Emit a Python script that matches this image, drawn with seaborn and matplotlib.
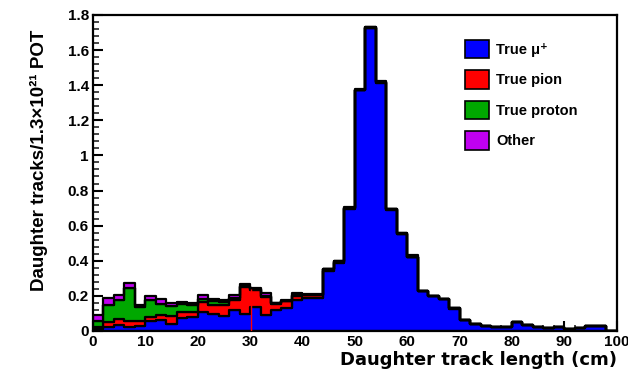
import numpy as np
import pandas as pd
import matplotlib
matplotlib.use("Agg")
import matplotlib.pyplot as plt
import seaborn as sns
from matplotlib.patches import Patch
from matplotlib.ticker import MultipleLocator

# ---- data (2 cm bins, 0..100 cm) ----
bin_edges = list(range(0, 102, 2))
categories = ["True \u03bc\u207a", "True pion", "True proton", "Other"]
colors = ["#0000ff", "#ff0000", "#00a800", "#c000f0"]

true_mu = [0.010, 0.023, 0.033, 0.023, 0.030, 0.057, 0.061, 0.038, 0.076, 0.080,
           0.110, 0.099, 0.086, 0.118, 0.099, 0.135, 0.090, 0.118, 0.133, 0.175,
           0.190, 0.190, 0.343, 0.385, 0.695, 1.370, 1.725, 1.415, 0.690, 0.553,
           0.420, 0.226, 0.197, 0.181, 0.128, 0.062, 0.039, 0.028, 0.025, 0.025,
           0.049, 0.034, 0.025, 0.015, 0.020, 0.010, 0.015, 0.030, 0.030, 0.000]
true_pion = [0.010, 0.030, 0.034, 0.034, 0.027, 0.025, 0.032, 0.050, 0.034, 0.030,
             0.055, 0.048, 0.061, 0.057, 0.149, 0.100, 0.105, 0.037, 0.039, 0.025,
             0.015, 0.015, 0.009, 0.010, 0.005, 0.002, 0.002, 0.002, 0.002, 0.002,
             0.002, 0.001, 0.001, 0.001, 0.001, 0.000, 0.000, 0.000, 0.000, 0.000,
             0.000, 0.000, 0.000, 0.000, 0.000, 0.000, 0.000, 0.000, 0.000, 0.000]
true_proton = [0.037, 0.094, 0.108, 0.187, 0.078, 0.093, 0.063, 0.055, 0.042, 0.040,
               0.015, 0.023, 0.018, 0.012, 0.007, 0.003, 0.005, 0.003, 0.001, 0.005,
               0.002, 0.002, 0.001, 0.002, 0.002, 0.002, 0.002, 0.002, 0.001, 0.001,
               0.001, 0.001, 0.001, 0.000, 0.000, 0.000, 0.000, 0.000, 0.000, 0.000,
               0.000, 0.000, 0.000, 0.000, 0.000, 0.000, 0.000, 0.000, 0.000, 0.000]
other = [0.033, 0.043, 0.029, 0.032, 0.012, 0.025, 0.025, 0.015, 0.014, 0.008,
         0.024, 0.015, 0.010, 0.019, 0.015, 0.007, 0.015, 0.004, 0.005, 0.010,
         0.003, 0.003, 0.002, 0.003, 0.003, 0.003, 0.004, 0.004, 0.002, 0.004,
         0.007, 0.002, 0.001, 0.001, 0.001, 0.001, 0.001, 0.000, 0.000, 0.000,
         0.001, 0.000, 0.000, 0.000, 0.000, 0.000, 0.000, 0.000, 0.000, 0.000]

x_ticks = [0, 10, 20, 30, 40, 50, 60, 70, 80, 90, 100]
y_ticks = [0, 0.2, 0.4, 0.6, 0.8, 1, 1.2, 1.4, 1.6, 1.8]
y_tick_labels = ["0", "0.2", "0.4", "0.6", "0.8", "1", "1.2", "1.4", "1.6", "1.8"]

# ---- build table ----
centers = [(a + b) / 2 for a, b in zip(bin_edges[:-1], bin_edges[1:])]
series = [true_mu, true_pion, true_proton, other]
df = pd.DataFrame({
    "length": np.tile(centers, len(categories)),
    "tracks": np.concatenate([np.array(s, dtype=float) for s in series]),
    "type": np.repeat(categories, len(centers)),
})

sns.set_theme(style="white")
plt.rcParams["font.family"] = ["Liberation Sans", "DejaVu Sans"]
plt.rcParams["text.color"] = "black"

fig = plt.figure(figsize=(6.28, 3.74), dpi=100)
ax = fig.add_axes([0.148, 0.115, 0.834, 0.845])

# seaborn stacks the first hue level on top -> reverse so muons are at bottom
sns.histplot(data=df, x="length", weights="tracks", hue="type",
             hue_order=categories[::-1], palette=dict(zip(categories, colors)),
             bins=bin_edges, multiple="stack", element="step", fill=True,
             alpha=1.0, edgecolor="black", linewidth=1.6, legend=False, ax=ax)

# thin red rendering artefact at x = 30
ax.vlines(30.2, 0, 0.24, color="#ff0000", linewidth=1.0, zorder=5)

ax.set_xlim(0, 100)
ax.set_ylim(0, 1.8)
ax.set_xticks(x_ticks)
ax.set_yticks(y_ticks)
ax.set_yticklabels(y_tick_labels)
ax.xaxis.set_minor_locator(MultipleLocator(2))
ax.yaxis.set_minor_locator(MultipleLocator(0.04))
ax.tick_params(axis="both", which="major", direction="in", length=7, width=1.5,
               labelsize=11, colors="black", pad=3)
ax.tick_params(axis="both", which="minor", direction="in", length=4, width=1.2)
ax.tick_params(axis="both", which="both", bottom=True, left=True, top=False, right=False)
for lab in ax.get_xticklabels() + ax.get_yticklabels():
    lab.set_fontweight("bold")

for sp in ax.spines.values():
    sp.set_color("black")
    sp.set_linewidth(1.6)

ax.set_xlabel("Daughter track length (cm)", loc="right", fontsize=13,
              fontweight="bold", color="black", family=["DejaVu Sans"])
ax.xaxis.set_label_coords(1.0, -0.062)
ax.set_ylabel("Daughter tracks/1.3\u00d710\u00b2\u00b9 POT", loc="top", fontsize=13.5,
              fontweight="bold", color="black")
ax.yaxis.set_label_coords(-0.085, 0.953)

handles = [Patch(facecolor=c, edgecolor="black", linewidth=1.2) for c in colors]
leg = ax.legend(handles, categories, loc="upper left", bbox_to_anchor=(0.70, 0.94),
                frameon=False, fontsize=10.5, handlelength=1.6, handleheight=1.6,
                labelspacing=0.8, handletextpad=0.5, borderaxespad=0)
for t in leg.get_texts():
    t.set_fontweight("bold")
    t.set_color("black")

fig.savefig("out.png", dpi=100, facecolor="white")
